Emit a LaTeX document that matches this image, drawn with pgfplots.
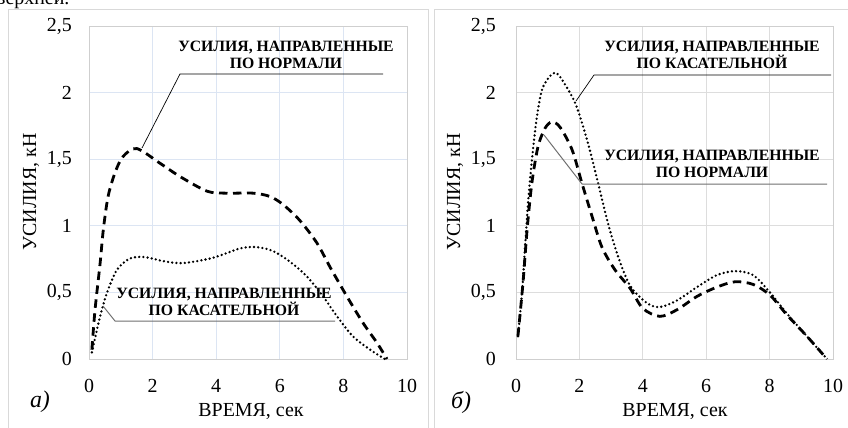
\documentclass[border=0pt]{standalone}
\usepackage{pgfplots}
\pgfplotsset{compat=1.18}
\usepackage{fontspec}
\setmainfont{Liberation Serif}
\definecolor{framegray}{HTML}{D9D9D9}
\definecolor{axgray}{HTML}{CFCFCF}
\definecolor{gridblue}{HTML}{DCE5F3}
\definecolor{gridgray}{HTML}{DDDDDD}
\definecolor{leadgray}{HTML}{707070}
\pgfplotsset{
  panel/.style={
    scale only axis, width=318bp, height=333bp,
    xmin=0, xmax=10, ymin=0, ymax=2.5,
    xtick={0,2,...,10}, ytick={0,0.5,1,1.5,2,2.5},
    /pgf/number format/assume math mode=true,
    /pgf/number format/use comma,
    ticklabel style={font=\fontsize{20}{22}\selectfont, inner sep=0pt},
    yticklabel style={xshift=-17bp},
    xticklabel style={yshift=-20bp},
    major tick length=0pt,
    axis line style={axgray, line width=0.8bp},
    grid=major,
    clip=false,
  },
  dashedline/.style={black, line width=2.8bp, dash pattern=on 8.5bp off 5.5bp, smooth, tension=0.5},
  dottedline/.style={black, line width=2.6bp, dash pattern=on 0bp off 4.2bp, line cap=round, smooth, tension=0.5},
}
\newcommand{\annfont}{\fontsize{15.8}{16.5}\selectfont\bfseries}
\begin{document}
\begin{tikzpicture}[x=1bp, y=1bp]
\useasboundingbox (0,0) rectangle (848,427);
\begin{scope}
\clip (0,0) rectangle (848,427);
\fill[white] (0,0) rectangle (848,427);
\node[anchor=base west, inner sep=0pt, font=\fontsize{20}{22}\selectfont] at (-4,422) {верхней.};
\draw[framegray, line width=1bp] (8,-5) -- (8,417) -- (428,417) -- (428,-5);
\draw[framegray, line width=1bp] (434,-5) -- (434,417) -- (852,417);

% ---------- left panel ----------
\begin{axis}[panel, at={(89bp,68bp)}, anchor=south west,
  grid style={gridblue, line width=0.8bp}]
\addplot[dashedline] coordinates {
 (0.09,0.07) (0.19,0.37) (0.35,0.72) (0.45,0.97) (0.6,1.22) (0.82,1.40)
 (1.07,1.52) (1.5,1.58) (2.23,1.47) (2.86,1.37) (3.71,1.26) (4.3,1.245)
 (5.16,1.245) (5.69,1.22) (6.1,1.16) (6.63,1.04) (7.17,0.87) (7.58,0.69)
 (8.11,0.47) (8.62,0.27) (9.06,0.12) (9.37,0.0)};
\addplot[dottedline] coordinates {
 (0.09,0.05) (0.35,0.32) (0.57,0.50) (0.88,0.67) (1.29,0.755) (1.76,0.765)
 (2.33,0.735) (2.96,0.72) (3.9,0.76) (4.75,0.83) (5.28,0.84) (5.79,0.81)
 (6.32,0.73) (6.85,0.62) (7.36,0.47) (7.8,0.32) (8.3,0.17) (8.84,0.07) (9.3,0.0)};
\end{axis}

% ---------- right panel ----------
\begin{axis}[panel, at={(516bp,68bp)}, anchor=south west, width=317bp,
  yticklabel style={xshift=-3bp},
  grid style={gridgray, line width=0.8bp}]
\addplot[dottedline] coordinates {
 (0.06,0.17) (0.19,0.5) (0.28,0.82) (0.38,1.17) (0.5,1.49) (0.66,1.82)
 (0.85,2.04) (1.23,2.15) (1.6,2.04) (1.92,1.89) (2.27,1.62) (2.59,1.32)
 (2.9,1.02) (3.22,0.77) (3.6,0.55) (4.13,0.42) (4.54,0.39) (5.08,0.44)
 (5.71,0.54) (6.34,0.63) (6.91,0.66) (7.48,0.63) (8.01,0.50) (8.55,0.34)
 (9.18,0.17) (9.81,0.0)};
\addplot[dashedline] coordinates {
 (0.06,0.17) (0.22,0.57) (0.35,0.97) (0.5,1.32) (0.69,1.59) (0.91,1.73)
 (1.13,1.78) (1.39,1.74) (1.77,1.57) (2.08,1.32) (2.4,1.07) (2.71,0.84)
 (3.12,0.67) (3.6,0.53) (4.0,0.38) (4.54,0.32) (5.08,0.37) (5.71,0.47)
 (6.34,0.54) (6.91,0.58) (7.48,0.56) (8.01,0.48) (8.55,0.33) (9.18,0.17)
 (9.81,0.0)};
\end{axis}

% labels
\foreach \dx in {0,424} {
  \node[rotate=90, font=\fontsize{20}{22}\selectfont] at (31+\dx,235) {УСИЛИЯ, кН};
  \node[font=\fontsize{20}{22}\selectfont] at (248+\dx+3,15) {ВРЕМЯ, сек};
}
\node[font=\fontsize{24}{26}\selectfont\itshape] at (40,25) {а)};
\node[font=\fontsize{24}{26}\selectfont\itshape] at (461,25) {б)};

% annotations left
\draw[black, line width=0.7bp] (142,279) -- (180,353) -- (383,353);
\node[align=center, font=\annfont, inner sep=0pt] at (286,372) {УСИЛИЯ, НАПРАВЛЕННЫЕ\\ПО НОРМАЛИ};
\draw[leadgray, line width=1bp] (103,121) -- (115,106) -- (335,106);
\node[align=center, font=\annfont, inner sep=0pt] at (224,125) {УСИЛИЯ, НАПРАВЛЕННЫЕ\\ПО КАСАТЕЛЬНОЙ};
% annotations right
\draw[black, line width=0.7bp] (576,326) -- (594,352) -- (831,352);
\node[align=center, font=\annfont, inner sep=0pt] at (712,372) {УСИЛИЯ, НАПРАВЛЕННЫЕ\\ПО КАСАТЕЛЬНОЙ};
\draw[leadgray, line width=1bp] (544,292) -- (582,243) -- (827,243);
\node[align=center, font=\annfont, inner sep=0pt] at (712,263) {УСИЛИЯ, НАПРАВЛЕННЫЕ\\ПО НОРМАЛИ};
\end{scope}
\end{tikzpicture}
\end{document}
